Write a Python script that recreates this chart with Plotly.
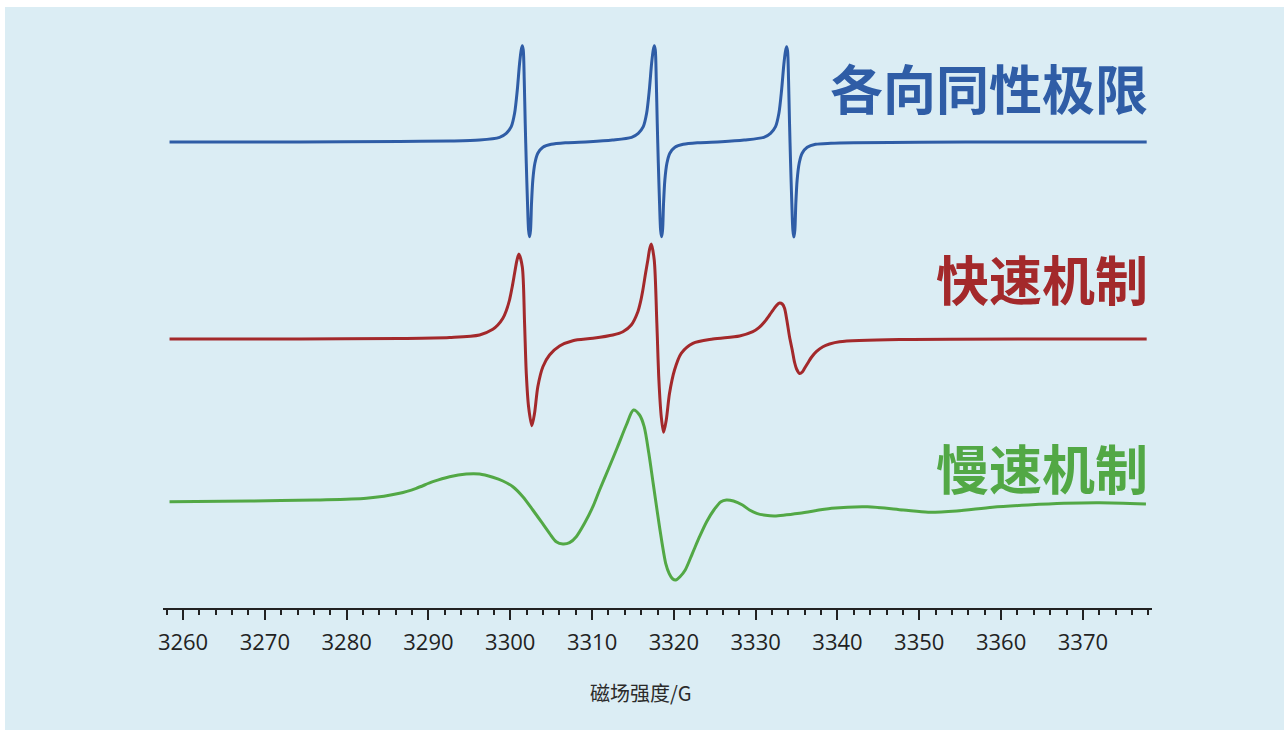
import plotly.graph_objects as go

# ---------------- data ----------------
# magnetic field (G) and first-derivative EPR intensity (arb. units)
iso_field = [3258.35, 3274.24, 3286.47, 3292.58, 3296.25, 3298.69, 3299.51, 3300.12, 3300.53, 3300.86,
             3301.14, 3301.34, 3301.47, 3301.59, 3301.71, 3301.83, 3301.96, 3302.11, 3302.24, 3302.36,
             3302.48, 3302.60, 3302.76, 3303.01, 3303.37, 3303.99, 3305.01, 3306.85, 3309.69,
             3312.50, 3314.83, 3315.65, 3316.26, 3316.67, 3317.00, 3317.28, 3317.48, 3317.61, 3317.73,
             3317.85, 3317.97, 3318.10, 3318.25, 3318.38, 3318.50, 3318.62, 3318.74, 3318.90, 3319.15,
             3319.51, 3320.13, 3321.15, 3322.99, 3325.83,
             3328.60, 3331.00, 3331.82, 3332.43, 3332.84, 3333.17, 3333.45, 3333.65, 3333.78, 3333.90,
             3334.02, 3334.14, 3334.27, 3334.42, 3334.55, 3334.67, 3334.79, 3334.91, 3335.07, 3335.32,
             3335.68, 3336.30, 3337.32, 3339.20, 3342.00, 3350.00, 3360.00, 3377.80]
iso_signal = [0, 0, 0.5, 1, 2, 4.7, 8.7, 15.3, 28.7, 52,
              78.7, 92, 96.3, 92, 62, 18.7, -21.3, -61.3, -88, -94.7,
              -88, -61.3, -38, -21.3, -11.3, -5.3, -2.3, -0.7, 0.3,
              2, 4.7, 8.7, 15.3, 28.7, 52, 78.7, 92, 96.3, 92,
              62, 18.7, -21.3, -61.3, -88, -94.7, -88, -61.3, -38, -21.3,
              -11.3, -5.3, -2.3, -0.7, 0.3,
              2, 4.7, 8.7, 15.3, 28.7, 52, 78, 91, 95.3, 91,
              62, 18.7, -21.3, -61.3, -88, -95, -88, -61.3, -38, -21.3,
              -11.3, -5.3, -2.3, -1.3, -0.8, -0.3, 0, 0]

fast_field = [3258.35, 3274.24, 3286.47, 3292.58, 3296.25, 3297.87, 3298.48, 3299.10, 3299.51, 3299.91,
              3300.24, 3300.53, 3300.81, 3301.05, 3301.47, 3301.75, 3301.96, 3302.24, 3302.64, 3302.97,
              3303.37, 3303.99, 3304.80, 3306.03, 3307.65, 3310.10, 3312.54, 3313.77, 3314.79, 3315.60,
              3315.93, 3316.21, 3316.54, 3316.82, 3317.03, 3317.24, 3317.60, 3317.92, 3318.17, 3318.46,
              3318.74, 3319.07, 3319.47, 3320.08, 3320.90, 3322.32, 3324.77, 3328.03, 3329.66, 3330.40,
              3331.09, 3331.70, 3332.10, 3332.52, 3332.92, 3333.25, 3333.53, 3333.81, 3334.14, 3334.47,
              3334.76, 3335.00, 3335.37, 3335.70, 3335.98, 3336.38, 3336.80, 3337.41, 3338.22, 3339.03,
              3340.26, 3347.59, 3377.80]
fast_signal = [0, 0, 0.5, 1.5, 4, 9.7, 14, 20.7, 28.3, 39,
               52.3, 65.7, 78.3, 85, 72.3, 15.7, -34.3, -67.7, -86.7, -74.3,
               -47.7, -27.7, -16, -7, -1.7, 0.7, 4, 7.3, 14, 27.3,
               37.3, 49, 65.7, 79, 89.7, 95, 79, 15.7, -41, -77.7,
               -93.3, -81, -54.3, -31, -14.3, -4.3, 0, 3, 7.3, 11.3,
               17.3, 24, 28.7, 33.3, 36, 35, 30.7, 19, 2.3, -11,
               -23.5, -30, -34.5, -33, -29.3, -24, -18.5, -12.7, -7.7, -5,
               -2.7, -0.5, 0]

slow_field = [3258.35, 3268.13, 3276.28, 3282.40, 3286.47, 3288.51, 3290.54, 3292.58, 3294.62, 3296.25,
              3297.87, 3299.10, 3300.32, 3301.54, 3302.76, 3303.79, 3304.80, 3305.62, 3306.43, 3307.25,
              3308.07, 3309.08, 3310.10, 3310.92, 3312.00, 3313.11, 3314.19, 3315.06, 3315.81, 3316.37,
              3316.94, 3317.47, 3318.00, 3318.56, 3319.00, 3319.42, 3319.87, 3320.22, 3320.75, 3321.39,
              3322.27, 3323.14, 3324.01, 3324.89, 3325.76, 3326.42, 3327.29, 3328.39, 3329.25, 3330.12,
              3331.21, 3332.31, 3335.37, 3339.29, 3343.67, 3348.03, 3351.09, 3354.57, 3358.95, 3363.31,
              3367.68, 3372.04, 3377.71]
slow_signal = [0.3, 1, 2, 3.7, 8.7, 13.7, 20.3, 25.3, 28, 28,
               24.7, 21, 15.3, 5.3, -8, -19.7, -31.3, -39.7, -42, -40.7,
               -34.7, -21.3, -4.7, 12, 33, 55, 77, 92, 87, 75.3,
               48.7, 18.7, -11.3, -41.3, -61.3, -71.3, -77, -78, -74.7, -68,
               -51.3, -34.7, -19.7, -8, 0.3, 2, 1, -3, -8, -11.3,
               -13.3, -14, -11.3, -6.3, -4.7, -8, -10.3, -9, -5.3, -3,
               -1.3, -0.7, -2]

labels = ["各向同性极限", "快速机制", "慢速机制"]
x_ticks = [3260, 3270, 3280, 3290, 3300, 3310, 3320, 3330, 3340, 3350, 3360, 3370]
x_title = "磁场强度/G"

# ---------------- styling ----------------
colors = ["#2f5da6", "#a3292b", "#52a845"]
offsets = [466, 269, 106]           # vertical stacking of the three spectra
label_y = [0.9014, 0.571, 0.244]    # paper coords of the labels
bg = "#dbedf4"

W, H = 1284, 732
ml, mr, mt, mb = 163, 132, 30, 124
pw, ph = W - ml - mr, H - mt - mb

fig = go.Figure()
for fld, sig, off, col in zip([iso_field, fast_field, slow_field],
                              [iso_signal, fast_signal, slow_signal],
                              offsets, colors):
    fig.add_trace(go.Scatter(
        x=fld, y=[v + off for v in sig], mode="lines",
        line=dict(color=col, width=3, shape="spline", smoothing=0.8),
        hoverinfo="skip", showlegend=False))

annotations = []
for txt, yy, col in zip(labels, label_y, colors):
    annotations.append(dict(
        text=f"<b>{txt}</b>", xref="paper", yref="paper", x=0.998, y=yy,
        xanchor="right", yanchor="middle", showarrow=False,
        font=dict(family="Noto Sans CJK SC", size=53, color=col)))
annotations.append(dict(
    text=x_title, xref="paper", yref="paper", x=(641 - ml) / pw, y=-(692 - (H - mb)) / ph,
    xanchor="center", yanchor="middle", showarrow=False,
    font=dict(family="Noto Sans CJK SC", size=20, color="#2a2a2a")))

fig.update_layout(
    width=W, height=H,
    margin=dict(l=ml, r=mr, t=mt, b=mb, pad=0),
    paper_bgcolor="white", plot_bgcolor="rgba(0,0,0,0)",
    shapes=[dict(type="rect", xref="paper", yref="paper", layer="below",
                 x0=(5 - ml) / pw, x1=(W + 5 - ml) / pw,
                 y0=-(730 - (H - mb)) / ph, y1=((H - mb) - 7) / ph,
                 fillcolor=bg, line=dict(width=0))],
    annotations=annotations,
    xaxis=dict(range=[3257.55, 3378.45], tickvals=x_ticks,
               ticktext=[str(t) for t in x_ticks],
               showline=True, linecolor="#222", linewidth=1.5,
               ticks="outside", ticklen=10, tickwidth=1.5, tickcolor="#222",
               ticklabelstandoff=4,
               minor=dict(dtick=2, tick0=3260, ticks="outside", ticklen=5,
                          tickwidth=1.5, tickcolor="#222"),
               showgrid=False, zeroline=False,
               tickfont=dict(family="Open Sans", size=22, color="#222")),
    yaxis=dict(range=[0, ph], visible=False, showgrid=False, zeroline=False),
)

fig.write_html("out.html", config={"displayModeBar": False},
               post_script="document.body.style.margin='0';document.body.style.overflow='hidden';")
